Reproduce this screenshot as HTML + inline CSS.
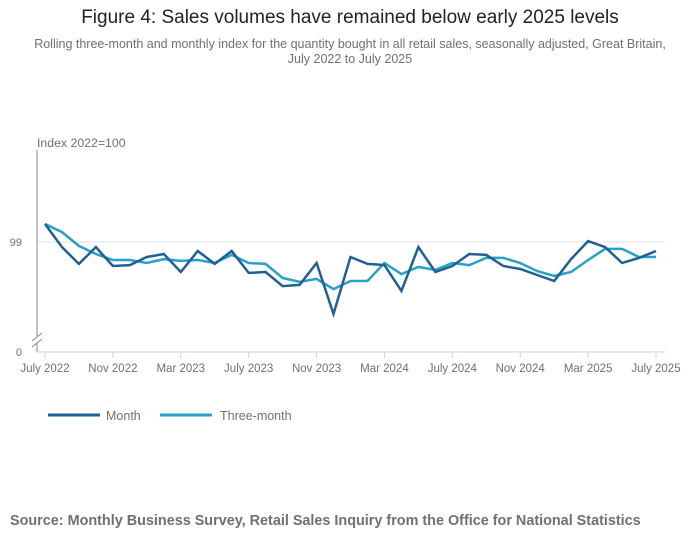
<!DOCTYPE html>
<html><head><meta charset="utf-8"><style>
body{margin:0;background:#fff;font-family:"Liberation Sans",sans-serif;}
#wrap{position:relative;width:700px;height:549px;overflow:hidden}
.t{position:absolute;white-space:nowrap}
</style></head><body>
<div id="wrap">
<div class="t" style="left:0;width:700px;text-align:center;top:7px;font-size:19px;color:#222">Figure 4: Sales volumes have remained below early 2025 levels</div>
<div class="t" style="left:0;width:700px;text-align:center;top:37px;font-size:12.5px;line-height:15px;color:#707070;white-space:normal">Rolling three-month and monthly index for the quantity bought in all retail sales, seasonally adjusted, Great Britain,<br>July 2022 to July 2025</div>
<svg id="chart" width="700" height="549" style="position:absolute;left:0;top:0"></svg>
<div class="t" style="left:10px;top:513px;font-size:14.4px;font-weight:bold;color:#707070">Source: Monthly Business Survey, Retail Sales Inquiry from the Office for National Statistics</div>
</div>
<script>
const months = ["Jul22","Aug22","Sep22","Oct22","Nov22","Dec22","Jan23","Feb23","Mar23","Apr23","May23","Jun23","Jul23","Aug23","Sep23","Oct23","Nov23","Dec23","Jan24","Feb24","Mar24","Apr24","May24","Jun24","Jul24","Aug24","Sep24","Oct24","Nov24","Dec24","Jan25","Feb25","Mar25","Apr25","May25","Jun25","Jul25"];
const monthValues = [99.60,98.83,98.27,98.83,98.20,98.23,98.50,98.60,98.00,98.70,98.27,98.70,97.97,98.00,97.53,97.57,98.30,96.60,98.50,98.27,98.23,97.37,98.83,98.00,98.20,98.60,98.57,98.20,98.10,97.90,97.70,98.43,99.03,98.83,98.30,98.47,98.70];
const threeMonthValues = [99.60,99.33,98.87,98.60,98.40,98.40,98.30,98.43,98.37,98.40,98.30,98.57,98.30,98.27,97.80,97.67,97.77,97.43,97.70,97.70,98.30,97.93,98.17,98.07,98.30,98.23,98.47,98.47,98.30,98.03,97.87,98.00,98.40,98.77,98.77,98.50,98.50];
const tickIndices = [0,4,8,12,16,20,24,28,32,36];
const tickLabels = ["July 2022","Nov 2022","Mar 2023","July 2023","Nov 2023","Mar 2024","July 2024","Nov 2024","Mar 2025","July 2025"];
const yTicks = [99];

const svg = document.getElementById('chart');
const NS = "http://www.w3.org/2000/svg";
function x(i){return 45 + i*(656-45)/36;}
function y(v){return 242 - (v-99)*30;}
function mk(tag, attrs, parent){const e=document.createElementNS(NS,tag);for(const k in attrs)e.setAttribute(k,attrs[k]);(parent||svg).appendChild(e);return e;}

const yl = mk('text',{x:37,y:147,'font-size':12.3,fill:'#707070','font-family':'Liberation Sans, sans-serif'});
yl.textContent='Index 2022=100';



yTicks.forEach(v=>{
  const g = mk('line',{x1:37,x2:665,y1:y(v),y2:y(v),stroke:'#e0e0e0','stroke-width':1});
  
  
  const t = mk('text',{x:22,y:y(v)+4,'font-size':11,fill:'#707070','text-anchor':'end','font-family':'Liberation Sans, sans-serif'});
  t.textContent=v;
  
  
});
const z = mk('text',{x:22,y:356,'font-size':11,fill:'#707070','text-anchor':'end','font-family':'Liberation Sans, sans-serif'});
z.textContent='0';



const ya = mk('line',{x1:37,x2:37,y1:150,y2:336,stroke:'#888','stroke-width':1});


const br = mk('path',{d:'M32,341 L42,333 M32,347 L42,339 M37,343 L37,352',stroke:'#888','stroke-width':1,fill:'none'});


const xa = mk('line',{x1:37,x2:665,y1:352,y2:352,stroke:'#c6d6ea','stroke-width':1});



tickIndices.forEach((idx,k)=>{
  const tk = mk('line',{x1:x(idx),x2:x(idx),y1:352,y2:358,stroke:'#c6d6ea','stroke-width':1});
  
  
  const tl = mk('text',{x:x(idx),y:372,'font-size':11.5,fill:'#707070','text-anchor':'middle','font-family':'Liberation Sans, sans-serif'});
  tl.textContent=tickLabels[k];
  
  
});

function line(vals,color,name){
  const d = vals.map((v,i)=>(i?'L':'M')+x(i).toFixed(1)+','+y(v).toFixed(1)).join(' ');
  const p = mk('path',{d:d,stroke:color,'stroke-width':2.5,fill:'none','stroke-linejoin':'miter'});
  
  
}
line(threeMonthValues,'#27a0cc','three-month-line');
line(monthValues,'#206095','month-line');

const l1 = mk('line',{x1:48,x2:100,y1:415,y2:415,stroke:'#206095','stroke-width':3});


const t1 = mk('text',{x:106,y:420,'font-size':12.5,fill:'#707070','font-family':'Liberation Sans, sans-serif'});
t1.textContent='Month';


const l2 = mk('line',{x1:160,x2:212,y1:415,y2:415,stroke:'#27a0cc','stroke-width':3});


const t2 = mk('text',{x:220,y:420,'font-size':12.5,fill:'#707070','font-family':'Liberation Sans, sans-serif'});
t2.textContent='Three-month';


</script>
</body></html>
